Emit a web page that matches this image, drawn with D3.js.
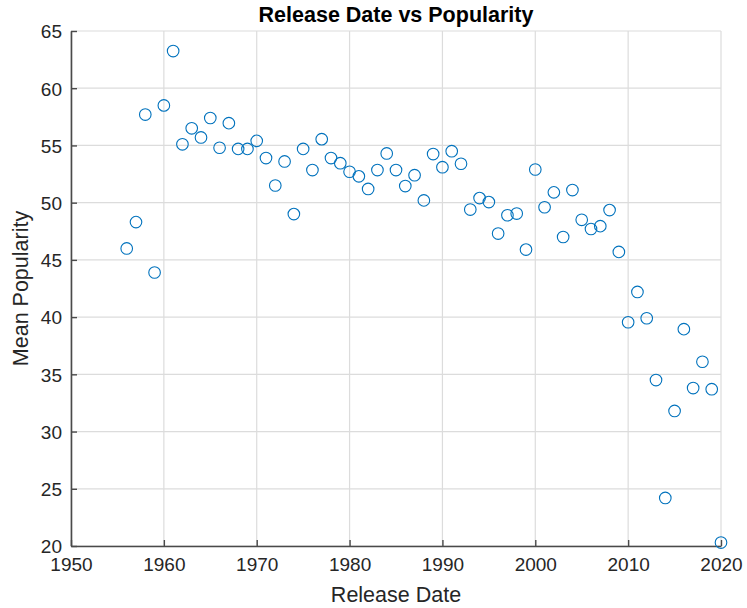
<!DOCTYPE html>
<html>
<head>
<meta charset="utf-8">
<script src="https://cdn.jsdelivr.net/npm/d3@7"></script>
<style>
  html, body { margin: 0; padding: 0; background: #fff; }
  svg { display: block; font-family: "Liberation Sans", Arial, Helvetica, sans-serif; }
</style>
</head>
<body>
<svg id="chart" width="747" height="608"></svg>
<script>
// Mean track popularity per release year
const years = [
  1956, 1957, 1958, 1959, 1960, 1961, 1962, 1963, 1964, 1965,
  1966, 1967, 1968, 1969, 1970, 1971, 1972, 1973, 1974, 1975,
  1976, 1977, 1978, 1979, 1980, 1981, 1982, 1983, 1984, 1985,
  1986, 1987, 1988, 1989, 1990, 1991, 1992, 1993, 1994, 1995,
  1996, 1997, 1998, 1999, 2000, 2001, 2002, 2003, 2004, 2005,
  2006, 2007, 2008, 2009, 2010, 2011, 2012, 2013, 2014, 2015,
  2016, 2017, 2018, 2019, 2020
];
const meanPopularity = [
  46.0, 48.3, 57.7, 43.9, 58.5, 63.25, 55.1, 56.5, 55.7, 57.4,
  54.8, 56.95, 54.7, 54.7, 55.4, 53.9, 51.5, 53.6, 49.0, 54.7,
  52.85, 55.55, 53.9, 53.45, 52.7, 52.3, 51.2, 52.85, 54.3, 52.85,
  51.45, 52.4, 50.2, 54.25, 53.1, 54.5, 53.4, 49.4, 50.4, 50.05,
  47.3, 48.9, 49.05, 45.9, 52.9, 49.6, 50.9, 47.0, 51.1, 48.5,
  47.7, 47.95, 49.35, 45.7, 39.55, 42.2, 39.9, 34.5, 24.2, 31.8,
  38.95, 33.8, 36.1, 33.7, 20.3
];
const xTicks = [1950, 1960, 1970, 1980, 1990, 2000, 2010, 2020];
const yTicks = [20, 25, 30, 35, 40, 45, 50, 55, 60, 65];

const svg = d3.select("#chart");
const margin = { left: 71, right: 26, top: 31, bottom: 62 };
const W = 747, H = 608;
const x = d3.scaleLinear().domain([1950, 2020]).range([margin.left, W - margin.right]);
const y = d3.scaleLinear().domain([20, 65]).range([H - margin.bottom, margin.top]);

const axisColor = "#4a4a4a";
const textColor = "#262626";

// grid
const grid = svg.append("g");
grid.selectAll("line.gx").data(xTicks).join("line")
  .attr("x1", d => x(d)).attr("x2", d => x(d))
  .attr("y1", y(20)).attr("y2", y(65))
  .attr("stroke", "#dcdcdc").attr("stroke-width", 1.2);
grid.selectAll("line.gy").data(yTicks).join("line")
  .attr("y1", d => y(d)).attr("y2", d => y(d))
  .attr("x1", x(1950)).attr("x2", x(2020))
  .attr("stroke", "#dcdcdc").attr("stroke-width", 1.2);

// axes (ticks pointing inward)
const xAxis = svg.append("g")
  .attr("transform", `translate(0,${y(20)})`)
  .call(d3.axisBottom(x).tickValues(xTicks).tickFormat(d3.format("d")).tickSizeInner(-6).tickSizeOuter(0).tickPadding(12));
const yAxis = svg.append("g")
  .attr("transform", `translate(${x(1950)},0)`)
  .call(d3.axisLeft(y).tickValues(yTicks).tickSizeInner(-6).tickSizeOuter(0).tickPadding(9));

[xAxis, yAxis].forEach(g => {
  g.select(".domain").attr("stroke", axisColor).attr("stroke-width", 1.6);
  g.selectAll(".tick line").attr("stroke", axisColor).attr("stroke-width", 1.4);
  g.selectAll(".tick text")
    .attr("fill", textColor)
    .style("font-size", "19px")
    .style("font-family", "'Liberation Sans', Arial, sans-serif");
});
xAxis.selectAll(".tick text").attr("dy", "0.71em");
yAxis.selectAll(".tick text").attr("dy", "0.36em");

// points
svg.append("g").selectAll("circle").data(years).join("circle")
  .attr("cx", (d, i) => x(d))
  .attr("cy", (d, i) => y(meanPopularity[i]))
  .attr("r", 5.8)
  .attr("fill", "none")
  .attr("stroke", "#0072BD")
  .attr("stroke-width", 1.1);

// title and axis labels
svg.append("text")
  .attr("x", (x(1950) + x(2020)) / 2).attr("y", 22)
  .attr("text-anchor", "middle")
  .attr("fill", "#000")
  .style("font-size", "21.5px").style("font-weight", "bold")
  .text("Release Date vs Popularity");

svg.append("text")
  .attr("x", (x(1950) + x(2020)) / 2).attr("y", 602)
  .attr("text-anchor", "middle")
  .attr("fill", textColor)
  .style("font-size", "21.5px")
  .text("Release Date");

svg.append("text")
  .attr("transform", `translate(28,${(y(20) + y(65)) / 2}) rotate(-90)`)
  .attr("text-anchor", "middle")
  .attr("fill", textColor)
  .style("font-size", "21.5px")
  .text("Mean Popularity");
</script>
</body>
</html>
